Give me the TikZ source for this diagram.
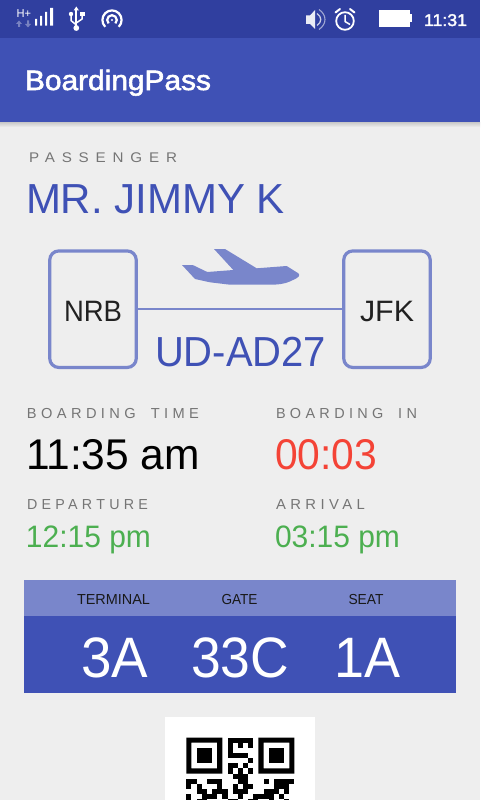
\documentclass[tikz,border=0pt]{standalone}
\usepackage{fontspec}
\usepackage{graphicx}
\setmainfont{Liberation Sans}
\definecolor{pagebg}{HTML}{EEEEEE}
\definecolor{barblue}{HTML}{3F51B5}
\definecolor{statusblue}{HTML}{303F9F}
\definecolor{lightblue}{HTML}{7986CB}
\definecolor{labelgray}{HTML}{757575}
\definecolor{okgreen}{HTML}{4CAF50}
\definecolor{alertred}{HTML}{F44336}
\definecolor{inktext}{HTML}{212121}
\newsavebox{\fitbox}
% #1 target width in px, #2 font size, #3 text
\newcommand{\fitw}[3]{\sbox{\fitbox}{\fontsize{#2}{#2}\selectfont #3}\pgfmathsetmacro{\fitf}{#1/\the\wd\fitbox}\scalebox{\fitf}[1]{\usebox{\fitbox}}}
\newcommand{\spc}[1]{\addfontfeatures{LetterSpace=#1}}
% medium weight: white text with a thin outline
\newcommand{\medw}[2]{\special{pdf:code q 1 1 1 RG #1 w 2 Tr}#2\special{pdf:code 0 Tr Q}}
\tikzset{
  x=1pt,y=-1pt,
  txt/.style={inner sep=0pt,outer sep=0pt,anchor=base west},
  ctr/.style={inner sep=0pt,outer sep=0pt,anchor=base},
  citybox/.style={draw=lightblue,line width=3.2pt,rounded corners=9pt,minimum width=86.5pt,minimum height=116.5pt,inner sep=0pt},
  iconline/.style={draw=white,line width=1.8pt},
}
\begin{document}
\begin{tikzpicture}
\useasboundingbox (0,0) rectangle (480,800);
\clip (0,0) rectangle (480,800);
\fill[pagebg] (0,0) rectangle (480,800);
% bars
\shade[top color=black!22,bottom color=pagebg] (0,122) rectangle (480,127);
\fill[barblue] (0,38) rectangle (480,122);
\fill[statusblue] (0,0) rectangle (480,38);
% status icons left
\node[txt,text=white] (hplus) at (16.5,18) {\fitw{14.5}{11.5}{H+}};
\fill[white,opacity=.35] (16,24) -- (19,20.5) -- (22,24) -- (20,24) -- (20,27) -- (18,27) -- (18,24) -- cycle;
\fill[white,opacity=.35] (25,24) -- (27,24) -- (27,20.5) -- (29,20.5) -- (29,24) -- (31,24) -- (28,27.5) -- cycle;
\fill[white] (35,19) rectangle (37.2,25.7) (40,16) rectangle (42.2,25.7) (45,12) rectangle (47.2,25.7) (50.2,8) rectangle (53,25.7);
% usb
\draw[iconline] (76.3,9) -- (76.3,28);
\fill[white] (76.3,6.5) -- (79,10.5) -- (73.6,10.5) -- cycle;
\fill[white] (76.3,28) circle (2.9);
\draw[iconline,line width=1.5pt] (76.3,25) -- (71,20.5) -- (71,15);
\draw[iconline,line width=1.5pt] (76.3,23) -- (82,19) -- (82,15);
\fill[white] (71,14) circle (2.2);
\fill[white] (80,12) rectangle (84.5,16.5);
% hotspot
\draw[iconline,line width=2.2pt] (105.2,26.8) arc (135:405:9.6);
\draw[iconline,line width=2.2pt] (108.6,23.4) arc (135:405:4.8);
\fill[white] (112,20) circle (1.1);
% status icons right
\fill[white,opacity=.9] (306,15.5) -- (310,15.5) -- (315,10) -- (315,29) -- (310,24) -- (306,24) -- cycle;
\draw[white,opacity=.75,line width=1.3pt] (317,13.5) .. controls (322,17) and (322,22) .. (317,25.5);
\draw[white,opacity=.55,line width=1.1pt] (319,9.5) .. controls (327,15) and (327,24) .. (319,29.5);
\draw[iconline] (345,21) circle (8.8);
\draw[iconline,line width=1.5pt] (345,15) -- (345,21.5) -- (350,24.5);
\draw[iconline,line cap=round,line width=2pt] (335.5,12.5) -- (340,9);
\draw[iconline,line cap=round,line width=2pt] (354.5,12.5) -- (350,9);
\fill[white] (379,10) rectangle (409.5,27);
\fill[white] (409.5,14.5) rectangle (412,22.5);
\node[txt,text=white] (clock) at (424,26) {\fitw{43}{17}{\medw{0.35}{11:31}}};
% title
\node[txt,text=white] (title) at (25,90) {\fitw{186}{28}{\medw{0.55}{BoardingPass}}};
% passenger
\node[txt,text=labelgray] (passlabel) at (29,162) {\fitw{148}{14}{\spc{45}PASSENGER}};
\node[txt,text=barblue] (passname) at (26,213) {\fitw{259}{42}{MR. JIMMY K}};
% route
\node[citybox] (nrb) at (93,309.2) {};
\node[citybox] (jfk) at (387,309.2) {};
\draw[lightblue,line width=2pt] (nrb) -- (jfk);
\node[ctr,text=inktext] (nrbt) at (93,321) {\fitw{58}{29.5}{NRB}};
\node[ctr,text=inktext] (jfkt) at (387,321) {\fitw{54}{29.5}{JFK}};
\fill[lightblue] (214,249) -- (225,249) -- (256.7,268.3) -- (286.7,266) -- (298.3,273.3)
  .. controls (300,275) and (300,277) .. (293,280) .. controls (288,282.5) and (284,284) .. (276,284.5)
  -- (230,284.7) -- (210,282.3) -- (195,279) -- (182,265) -- (192.7,265) -- (207.3,272) -- (233.3,270) -- cycle;
\node[txt,text=barblue] (flight) at (155,366) {\fitw{171}{42}{UD-AD27}};
% times
\node[txt,text=labelgray] (bt) at (27,418) {\fitw{172}{14.5}{\spc{30}BOARDING\hspace{.45em} TIME}};
\node[txt,text=labelgray] (bi) at (276,418) {\fitw{141}{14.5}{\spc{30}BOARDING\hspace{.45em} IN}};
\node[txt,text=black] (btv) at (26,469) {\fitw{174}{43}{11:35 am}};
\node[txt,text=alertred] (biv) at (275,469) {\fitw{102}{43}{00:03}};
\node[txt,text=labelgray] (dep) at (27,509.5) {\fitw{121}{14.5}{\spc{30}DEPARTURE}};
\node[txt,text=labelgray] (arr) at (276,509.5) {\fitw{89}{14.5}{\spc{30}ARRIVAL}};
\node[txt,text=okgreen] (depv) at (26,547) {\fitw{125}{31}{12:15 pm}};
\node[txt,text=okgreen] (arrv) at (275,547) {\fitw{125}{31}{03:15 pm}};
% table
\fill[lightblue] (24,580) rectangle (456,616);
\fill[barblue] (24,616) rectangle (456,693);
\node[ctr,text=black!90] (t1) at (113.5,604) {\fitw{73}{14.5}{TERMINAL}};
\node[ctr,text=black!90] (t2) at (239.5,604) {\fitw{36}{14.5}{GATE}};
\node[ctr,text=black!90] (t3) at (366,604) {\fitw{35}{14.5}{SEAT}};
\node[ctr,text=white] (v1) at (114.5,677) {\fitw{67}{57}{3A}};
\node[ctr,text=white] (v2) at (240,677) {\fitw{98}{57}{33C}};
\node[ctr,text=white] (v3) at (367,677) {\fitw{66}{57}{1A}};
% QR
\fill[white] (165,717) rectangle (315,820);
\begin{scope}[shift={(186.3,737.5)},x=5.15pt,y=-5.15pt]
  \foreach \fx in {0,14}{
    \fill[black,even odd rule] (\fx,0) rectangle ++(7,7) (\fx+1,1) rectangle ++(5,5);
    \fill[black] (\fx+2,2) rectangle ++(3,3);
  }
  \foreach \r/\l in {0/{8,9,10,11,12},1/{8,10,12},2/{8},3/{8,9,10,11},4/{12},5/{8,9,11},6/{8,10,12},
     7/{9,10,11},8/{0,1,4,5,6,10,11,15,17,18,19,20},9/{0,2,6,9,11,12,17,18,19},10/{2,3,5,6,7,9,10,11,15,16,17,19},
     11/{0,3,4,5,7,10,13,14,15,16,18},12/{0,2,3,8,9,12,13,16,19}}{
    \foreach \c in \l { \fill[black] (\c,\r) rectangle ++(1,1); }
  }
\end{scope}
\end{tikzpicture}
\end{document}
